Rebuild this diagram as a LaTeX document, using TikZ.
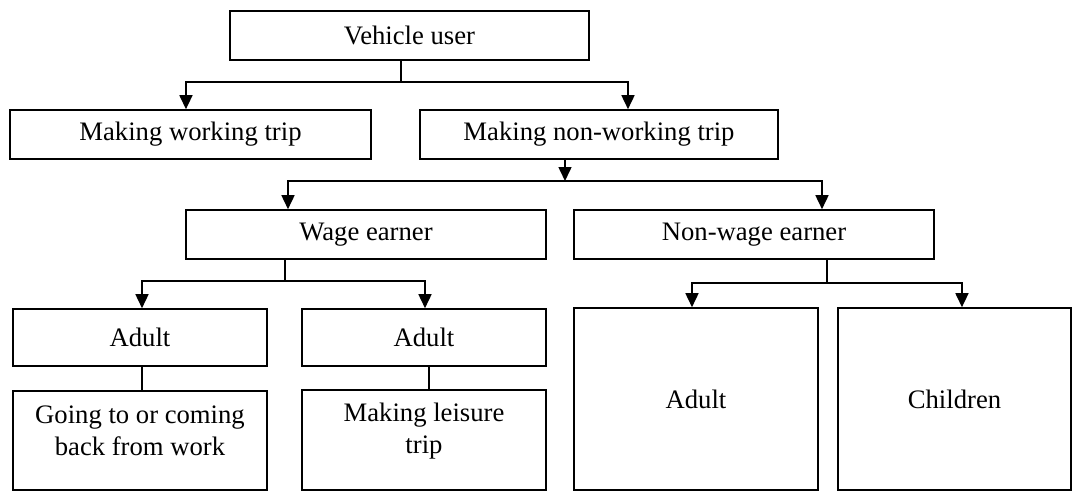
\documentclass[tikz,border=0pt]{standalone}
\usepackage{fontspec}
\setmainfont{Liberation Serif}
\usetikzlibrary{arrows.meta}
\newcommand{\fsz}{\fontsize{20}{24}\selectfont}
\newcommand{\twolines}[2]{\raisebox{#1}[0pt][0pt]{\begin{tabular}{@{}c@{}}#2\end{tabular}}}
\begin{document}
\begin{tikzpicture}[x=0.75pt,y=-0.75pt,
  box/.style={draw, line width=1.2pt, inner sep=0pt, font=\fsz},
  conn/.style={line width=1.2pt},
  arr/.style={-{Triangle[width=9.75pt,length=10.5pt]}}]
\useasboundingbox (0,0) rectangle (1072,492);
% boxes
\node[box, minimum width=269.25pt, minimum height=36.75pt] (vu)  at (409.5,35.5) {Vehicle user};
\node[box, minimum width=270.75pt, minimum height=36.75pt] (wt)  at (190.5,134.5) {Making working trip};
\node[box, minimum width=268.5pt,  minimum height=36.75pt] (nwt) at (599,134.5) {Making non-working trip};
\node[box, minimum width=270pt,    minimum height=36.75pt] (we)  at (366,234.5) {Wage earner};
\node[box, minimum width=270pt,    minimum height=36.75pt] (nwe) at (754,234.5) {Non-wage earner};
\node[box, minimum width=190.5pt,  minimum height=42.75pt] (a1)  at (140,337.5) {Adult};
\node[box, minimum width=183pt,    minimum height=42.75pt] (a2)  at (424,337.5) {Adult};
\node[box, minimum width=190.5pt,  minimum height=74.25pt] (g)   at (140,440.5) {\twolines{0pt}{Going to or coming\\back from work}};
\node[box, minimum width=183pt,    minimum height=75pt]    (l)   at (424,440) {\twolines{1.75pt}{Making leisure\\trip}};
\node[box, minimum width=183pt,    minimum height=136.5pt] (a3)  at (696,399) {Adult};
\node[box, minimum width=174.75pt, minimum height=136.5pt] (c)   at (954.5,399) {Children};
% junctions
\coordinate (j1) at (401,82);
\coordinate (j2) at (565,181);
\coordinate (j3) at (285,281);
\coordinate (j4) at (827,283);
% connectors
\draw[conn] (vu.south -| j1) -- (j1);
\draw[conn,arr] (j1) -| ([xshift=-3.4pt]wt.north);
\draw[conn,arr] (j1) -| ([xshift=21.75pt]nwt.north);
\draw[conn,arr] (nwt.south -| j2) -- (j2);
\draw[conn,arr] (j2) -| ([xshift=-58.5pt]we.north);
\draw[conn,arr] (j2) -| ([xshift=51pt]nwe.north);
\draw[conn] (we.south -| j3) -- (j3);
\draw[conn,arr] (j3) -| ([xshift=1.5pt]a1.north);
\draw[conn,arr] (j3) -| ([xshift=0.75pt]a2.north);
\draw[conn] (nwe.south -| j4) -- (j4);
\draw[conn,arr] (j4) -| ([xshift=-3pt]a3.north);
\draw[conn,arr] (j4) -| ([xshift=5.6pt]c.north);
\draw[conn] ([xshift=1.5pt]a1.south) -- ([xshift=1.5pt]g.north);
\draw[conn] ([xshift=3.75pt]a2.south) -- ([xshift=3.75pt]l.north);
\end{tikzpicture}
\end{document}
